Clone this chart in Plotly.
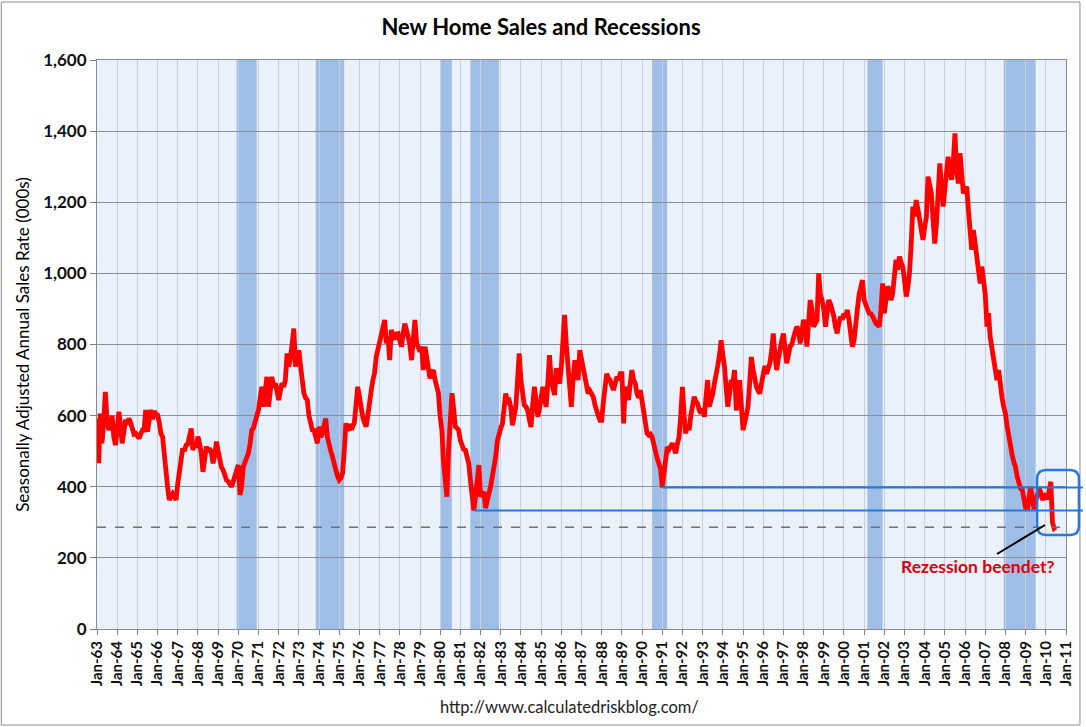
import plotly.graph_objects as go
import pandas as pd

# ---------------- data (thousands, SAAR, monthly from Jan 1963) ----------------
s1963 = [592, 466, 606, 522, 580, 667, 588, 560, 569, 600, 540, 517]
s1964 = [560, 611, 570, 522, 555, 588, 575, 592, 580, 565, 548, 550]
s1965 = [540, 536, 548, 559, 559, 616, 555, 580, 616, 590, 612, 605]
s1966 = [602, 580, 550, 541, 480, 437, 400, 363, 372, 380, 372, 363]
s1967 = [409, 440, 475, 508, 500, 517, 520, 540, 564, 503, 520, 510]
s1968 = [541, 520, 494, 442, 480, 513, 500, 508, 495, 466, 490, 527]
s1969 = [500, 466, 455, 447, 430, 419, 415, 405, 400, 415, 428, 450]
s1970 = [461, 377, 400, 456, 470, 480, 494, 520, 559, 565, 578, 600]
s1971 = [616, 650, 681, 625, 660, 709, 625, 660, 709, 680, 691, 670]
s1972 = [644, 670, 691, 681, 700, 775, 738, 760, 800, 845, 738, 760]
s1973 = [784, 738, 700, 663, 650, 644, 600, 569, 560, 559, 540, 522]
s1974 = [569, 540, 550, 575, 592, 540, 513, 500, 484, 460, 447, 430]
s1975 = [419, 425, 437, 500, 578, 565, 559, 575, 569, 580, 620, 681]
s1976 = [653, 620, 597, 580, 569, 600, 644, 670, 700, 720, 766, 790]
s1977 = [810, 822, 850, 869, 803, 822, 756, 841, 822, 815, 830, 831]
s1978 = [810, 794, 830, 859, 841, 820, 800, 756, 820, 869, 803, 790]
s1979 = [780, 794, 728, 794, 760, 720, 705, 720, 728, 700, 680, 663]
s1980 = [597, 559, 470, 400, 372, 503, 600, 663, 620, 569, 565, 559]
s1981 = [530, 513, 505, 503, 480, 466, 419, 380, 333, 372, 420, 461]
s1982 = [372, 380, 386, 340, 370, 381, 400, 428, 450, 484, 530, 555]
s1983 = [565, 578, 608, 662, 640, 643, 625, 573, 600, 625, 700, 775]
s1984 = [700, 644, 630, 625, 615, 590, 568, 630, 681, 640, 597, 620]
s1985 = [650, 681, 650, 625, 690, 770, 700, 680, 658, 733, 710, 690]
s1986 = [737, 800, 883, 800, 747, 680, 625, 700, 756, 720, 700, 784]
s1987 = [760, 737, 710, 681, 662, 670, 660, 653, 630, 610, 600, 587]
s1988 = [587, 640, 672, 718, 705, 700, 685, 672, 690, 709, 700, 718]
s1989 = [718, 578, 681, 660, 644, 690, 728, 700, 690, 662, 650, 672]
s1990 = [640, 606, 580, 550, 545, 548, 540, 515, 494, 480, 465, 450]
s1991 = [398, 440, 480, 512, 505, 515, 522, 510, 494, 520, 540, 600]
s1992 = [681, 600, 550, 575, 559, 600, 620, 653, 640, 634, 615, 606]
s1993 = [620, 597, 650, 700, 625, 640, 660, 690, 710, 740, 770, 812]
s1994 = [770, 737, 680, 625, 660, 700, 690, 728, 615, 640, 700, 640]
s1995 = [559, 580, 600, 625, 690, 765, 730, 700, 681, 670, 662, 690]
s1996 = [728, 740, 718, 735, 747, 780, 831, 770, 728, 760, 794, 810]
s1997 = [831, 790, 747, 770, 794, 800, 822, 835, 850, 841, 803, 840]
s1998 = [869, 850, 794, 860, 925, 900, 850, 860, 868, 1000, 940, 925]
s1999 = [900, 850, 880, 925, 915, 900, 880, 850, 831, 860, 878, 870]
s2000 = [887, 878, 897, 870, 841, 794, 810, 878, 900, 940, 960, 981]
s2001 = [925, 906, 900, 888, 887, 880, 869, 859, 855, 850, 897, 972]
s2002 = [888, 920, 963, 953, 925, 944, 990, 1038, 1010, 1047, 1030, 1019]
s2003 = [980, 935, 960, 1000, 1080, 1188, 1160, 1206, 1180, 1150, 1120, 1094]
s2004 = [1130, 1159, 1272, 1240, 1225, 1150, 1084, 1140, 1206, 1309, 1240, 1188]
s2005 = [1240, 1300, 1328, 1290, 1263, 1310, 1394, 1290, 1253, 1338, 1280, 1225]
s2006 = [1235, 1244, 1180, 1113, 1066, 1122, 1080, 1056, 1010, 972, 1019, 990]
s2007 = [940, 850, 888, 820, 790, 760, 738, 700, 728, 681, 650, 625]
s2008 = [606, 570, 540, 503, 490, 470, 456, 428, 410, 395, 391, 365]
s2009 = [340, 335, 365, 400, 370, 337, 360, 380, 395, 385, 363, 372]
s2010 = [380, 365, 385, 414, 300, 283, 286]

yearly = [s1963, s1964, s1965, s1966, s1967, s1968, s1969, s1970, s1971, s1972,
          s1973, s1974, s1975, s1976, s1977, s1978, s1979, s1980, s1981, s1982,
          s1983, s1984, s1985, s1986, s1987, s1988, s1989, s1990, s1991, s1992,
          s1993, s1994, s1995, s1996, s1997, s1998, s1999, s2000, s2001, s2002,
          s2003, s2004, s2005, s2006, s2007, s2008, s2009, s2010]
sales = [v for yr in yearly for v in yr]
dates = pd.date_range("1963-01-01", periods=len(sales), freq="MS")

recessions = [("1969-12-01", "1970-11-30"), ("1973-11-01", "1975-03-31"),
              ("1980-01-01", "1980-07-31"), ("1981-07-01", "1982-11-30"),
              ("1990-07-01", "1991-03-31"), ("2001-03-01", "2001-11-30"),
              ("2007-12-01", "2009-06-30")]

title_text = "New Home Sales and Recessions"
ytitle = "Seasonally Adjusted Annual Sales Rate (000s)"
note_text = "Rezession beendet?"
url_text = "http://www.calculatedriskblog.com/"

# ---------------- geometry helpers ----------------
W, H = 1086, 727
L, R, T, B = 97, 1069, 60, 629
PW, PH = R - L, B - T
X0, X1 = pd.Timestamp("1963-01-01"), pd.Timestamp("2011-01-01")
YMAX = 1600


def xp(d):
    return (pd.Timestamp(d) - X0) / (X1 - X0)


def yp(v):
    return v / YMAX


def pxx(p):
    return (p - L) / PW


def pxy(p):
    return (B - p) / PH


s = pd.Series(sales, index=dates)
low82 = s["1981-01-01":"1982-12-01"]
low91 = s["1990-06-01":"1991-12-01"]
low82_d, low82_v = low82.idxmin(), low82.min()
low91_d, low91_v = low91.idxmin(), low91.min()
last_v = sales[-1]

BLUE = "#1F7BE0"
shapes = []
for a, b in recessions:
    shapes.append(dict(type="rect", xref="x", yref="paper", x0=a, x1=b, y0=0, y1=1,
                       fillcolor="#9EBEE8", line=dict(width=0), layer="below"))

# horizontal reference lines (extend past the plot to the page edge)
shapes.append(dict(type="line", xref="paper", yref="paper", x0=xp(low91_d), x1=pxx(W),
                   y0=yp(low91_v), y1=yp(low91_v), line=dict(color=BLUE, width=2)))
shapes.append(dict(type="line", xref="paper", yref="paper", x0=xp(low82_d), x1=pxx(W),
                   y0=yp(low82_v), y1=yp(low82_v), line=dict(color=BLUE, width=2)))
shapes.append(dict(type="line", xref="paper", yref="paper", x0=0, x1=1,
                   y0=yp(last_v), y1=yp(last_v),
                   line=dict(color="#707070", width=1.5, dash="dash")))

# rounded highlight box
bx0, bx1 = pxx(1040), pxx(1082)
by1, by0 = pxy(470), pxy(535)
rx, ry = 9 / PW, 9 / PH
path = (f"M {bx0+rx},{by0} L {bx1-rx},{by0} Q {bx1},{by0} {bx1},{by0+ry} "
        f"L {bx1},{by1-ry} Q {bx1},{by1} {bx1-rx},{by1} L {bx0+rx},{by1} "
        f"Q {bx0},{by1} {bx0},{by1-ry} L {bx0},{by0+ry} Q {bx0},{by0} {bx0+rx},{by0} Z")
shapes.append(dict(type="path", xref="paper", yref="paper", path=path,
                   line=dict(color=BLUE, width=2.5)))

# outer chart border
shapes.append(dict(type="rect", xref="paper", yref="paper",
                   x0=pxx(1), x1=pxx(1083), y0=pxy(725), y1=pxy(2),
                   line=dict(color="#8C8C8C", width=1), layer="below"))

fig = go.Figure()
fig.add_trace(go.Scatter(x=dates, y=sales, mode="lines",
                         line=dict(color="#FF0000", width=4.8), hoverinfo="x+y",
                         showlegend=False))

FONT = "Lato, 'Open Sans', sans-serif"
annotations = [
    dict(xref="paper", yref="paper", x=pxx(1048), y=pxy(525), text=f"<b>{note_text}</b>",
         showarrow=True, arrowhead=0, arrowwidth=2, arrowcolor="black",
         ax=-68, ay=41, font=dict(family=FONT, size=17.5, color="#E0000A")),
    dict(xref="paper", yref="paper", x=pxx(571), y=pxy(707), text=url_text,
         showarrow=False, xanchor="center", yanchor="middle",
         font=dict(family=FONT, size=16.5, color="#222222")),
]

fig.update_layout(
    width=W, height=H,
    margin=dict(l=L, r=W - R, t=T, b=H - B),
    paper_bgcolor="white", plot_bgcolor="#EAF1FA",
    title=dict(text=f"<b>{title_text}</b>", x=541 / W, xanchor="center",
               y=1 - 27 / H, yanchor="middle",
               font=dict(family=FONT, size=22, color="black")),
    shapes=shapes, annotations=annotations, showlegend=False,
    xaxis=dict(type="date", range=[X0, X1], tick0="1963-01-01", dtick="M12",
               tickformat="%b-%y", tickangle=-90,
               tickfont=dict(family=FONT, size=15, color="#111111", weight="bold"),
               ticks="outside", ticklen=5, tickcolor="#808080",
               showgrid=True, gridcolor="#C5CFDD", gridwidth=1,
               showline=True, linecolor="#8C8C8C", mirror=True, zeroline=False),
    yaxis=dict(range=[0, YMAX], dtick=200, tickformat=",",
               tickfont=dict(family=FONT, size=17, color="#111111", weight="bold"),
               ticks="outside", ticklen=6, tickcolor="#808080",
               showgrid=True, gridcolor="#8A8E96", gridwidth=1,
               showline=True, linecolor="#8C8C8C", mirror=True, zeroline=False,
               title=dict(text=ytitle, standoff=9,
                          font=dict(family=FONT, size=17, color="black"))),
)

fig.write_html("out.html", config={"displayModeBar": False},
               post_script="document.body.style.margin='0';")
